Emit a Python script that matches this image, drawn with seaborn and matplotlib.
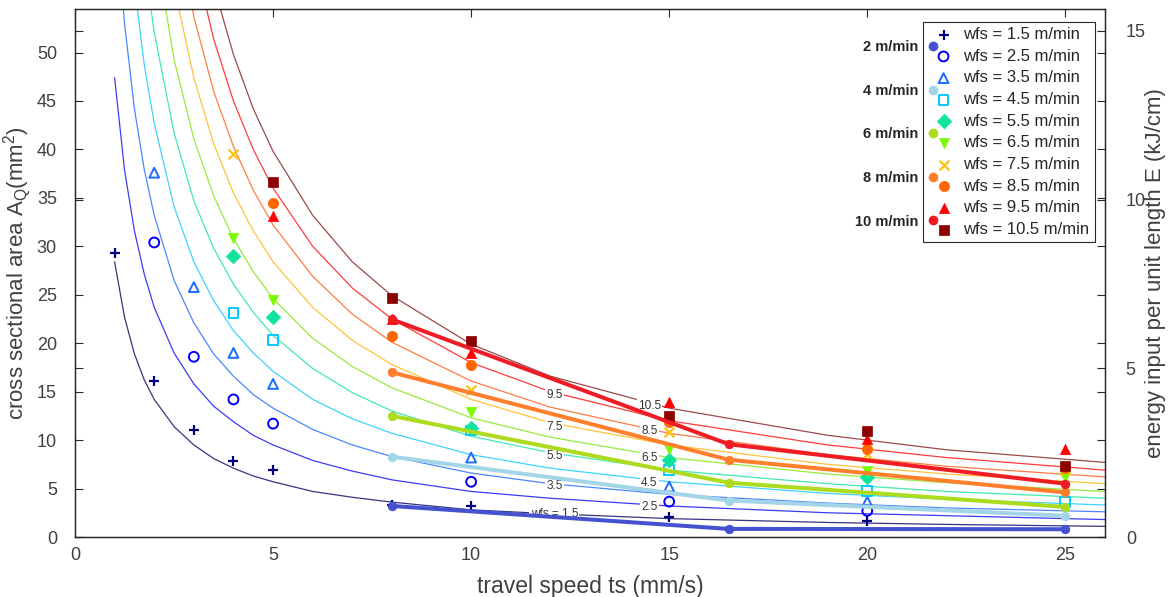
import matplotlib
matplotlib.use("Agg")
import matplotlib.pyplot as plt
from matplotlib.lines import Line2D
import seaborn as sns

# constant-wfs curves at these travel speeds (mm/s)
CURVE_TS = [1, 1.25, 1.5, 1.75, 2, 2.5, 3, 3.5, 4, 4.5, 5, 6, 7, 8, 10, 12, 15, 19, 22, 26]
CURVE_1_5 = [28.4, 22.7, 18.9, 16.2, 14.2, 11.4, 9.5, 8.1, 7.1, 6.3, 5.7, 4.7, 4.1, 3.6, 2.8, 2.4, 1.9, 1.5, 1.3, 1.1]
CURVE_2_5 = [47.4, 37.9, 31.6, 27.1, 23.7, 19.0, 15.8, 13.5, 11.9, 10.5, 9.5, 7.9, 6.8, 5.9, 4.7, 4.0, 3.2, 2.5, 2.2, 1.8]
CURVE_3_5 = [66.3, 53.0, 44.2, 37.9, 33.2, 26.5, 22.1, 18.9, 16.6, 14.7, 13.3, 11.1, 9.5, 8.3, 6.6, 5.5, 4.4, 3.5, 3.0, 2.6]
CURVE_4_5 = [85.3, 68.2, 56.9, 48.7, 42.7, 34.1, 28.4, 24.4, 21.3, 19.0, 17.1, 14.2, 12.2, 10.7, 8.5, 7.1, 5.7, 4.5, 3.9, 3.3]
CURVE_5_5 = [104.2, 83.4, 69.5, 59.5, 52.1, 41.7, 34.7, 29.8, 26.1, 23.2, 20.8, 17.4, 14.9, 13.0, 10.4, 8.7, 6.9, 5.5, 4.7, 4.0]
CURVE_6_5 = [123.2, 98.6, 82.1, 70.4, 61.6, 49.3, 41.1, 35.2, 30.8, 27.4, 24.6, 20.5, 17.6, 15.4, 12.3, 10.3, 8.2, 6.5, 5.6, 4.7]
CURVE_7_5 = [142.1, 113.7, 94.7, 81.2, 71.1, 56.8, 47.4, 40.6, 35.5, 31.6, 28.4, 23.7, 20.3, 17.8, 14.2, 11.8, 9.5, 7.5, 6.5, 5.5]
CURVE_8_5 = [161.1, 128.9, 107.4, 92.1, 80.6, 64.4, 53.7, 46.0, 40.3, 35.8, 32.2, 26.9, 23.0, 20.1, 16.1, 13.4, 10.7, 8.5, 7.3, 6.2]
CURVE_9_5 = [180.0, 144.0, 120.0, 102.9, 90.0, 72.0, 60.0, 51.4, 45.0, 40.0, 36.0, 30.0, 25.7, 22.5, 18.0, 15.0, 12.0, 9.5, 8.2, 6.9]
CURVE_10_5 = [199.0, 159.2, 132.7, 113.7, 99.5, 79.6, 66.3, 56.9, 49.8, 44.2, 39.8, 33.2, 28.4, 24.9, 19.9, 16.6, 13.3, 10.5, 9.0, 7.7]

CURVE_LABELS = ["wfs = 1.5", "2.5", "3.5", "4.5", "5.5", "6.5", "7.5", "8.5", "9.5", "10.5"]
LABEL_TS = [12.1, 14.5, 12.1, 14.5, 12.1, 14.5, 12.1, 14.5, 12.1, 14.5]
LABEL_A = [2.4, 3.1, 5.3, 5.6, 8.4, 8.2, 11.4, 10.9, 14.7, 13.5]

# measured cross sections per wire feed speed
TS_1_5 = [1, 2, 3, 4, 5, 8, 10, 15, 20]
A_1_5 = [29.3, 16.1, 11.05, 7.85, 6.9, 3.3, 3.2, 2.1, 1.6]
TS_2_5 = [2, 3, 4, 5, 10, 15, 20]
A_2_5 = [30.4, 18.6, 14.2, 11.7, 5.7, 3.65, 2.7]
TS_3_5 = [2, 3, 4, 5, 10, 15, 20]
A_3_5 = [37.6, 25.8, 19.0, 15.8, 8.2, 5.2, 3.65]
TS_4_5 = [4, 5, 10, 15, 20, 25]
A_4_5 = [23.1, 20.3, 11.0, 6.9, 4.75, 3.65]
TS_5_5 = [4, 5, 10, 15, 20]
A_5_5 = [29.0, 22.7, 11.3, 7.9, 6.2]
TS_6_5 = [4, 5, 10, 15, 20, 25]
A_6_5 = [30.9, 24.5, 12.9, 9.1, 6.8, 6.2]
TS_7_5 = [4, 10, 15, 20, 25]
A_7_5 = [39.5, 15.2, 10.8, 8.6, 6.9]
TS_8_5 = [5, 8, 10, 15, 20, 25]
A_8_5 = [34.5, 20.7, 17.8, 11.9, 9.1, 7.1]
TS_9_5 = [5, 8, 10, 15, 20, 25]
A_9_5 = [33.1, 22.5, 19.0, 13.9, 10.1, 9.06]
TS_10_5 = [5, 8, 10, 15, 20, 25]
A_10_5 = [36.6, 24.7, 20.2, 12.5, 10.9, 7.3]

WFS_LABELS = ["wfs = 1.5 m/min", "wfs = 2.5 m/min", "wfs = 3.5 m/min", "wfs = 4.5 m/min",
              "wfs = 5.5 m/min", "wfs = 6.5 m/min", "wfs = 7.5 m/min", "wfs = 8.5 m/min",
              "wfs = 9.5 m/min", "wfs = 10.5 m/min"]

# energy input per unit length (kJ/cm), right axis
E_TS = [8, 16.5, 25]
E_2 = [0.92, 0.24, 0.23]
E_4 = [2.38, 1.08, 0.63]
E_6 = [3.59, 1.61, 0.89]
E_8 = [4.88, 2.29, 1.32]
E_10 = [6.45, 2.75, 1.58]
E_LABELS = ["2 m/min", "4 m/min", "6 m/min", "8 m/min", "10 m/min"]

CURVE_COLORS = ["#35357f", "#3c3cf5", "#4a86ff", "#40d2ff", "#40eab0",
                "#98ea3c", "#ffc23c", "#ff7c44", "#ff3c3c", "#9c4a4a"]
MARKER_COLORS = ["#000080", "#0000ff", "#1a6cff", "#00c8ff", "#10e39b",
                 "#7cfc00", "#ffc20e", "#ff6600", "#ff0000", "#8b0000"]
MARKERS = ["+", "o", "^", "s", "D", "v", "x", "o", "^", "s"]
FILLED = [True, False, False, False, True, True, True, True, True, True]
E_COLORS = ["#4452cf", "#a3d5e8", "#addb1e", "#ff802c", "#ee1c24"]

TXT = "#404040"

sns.set_style("white")
plt.rcParams["font.family"] = ["Liberation Sans", "DejaVu Sans"]
plt.rcParams["mathtext.fontset"] = "custom"
plt.rcParams["mathtext.rm"] = "Liberation Sans"

fig, ax = plt.subplots(figsize=(11.7, 5.97), dpi=100)
fig.subplots_adjust(left=0.0641, right=0.9444, bottom=0.1005, top=0.985)
ax2 = ax.twinx()

curves = [CURVE_1_5, CURVE_2_5, CURVE_3_5, CURVE_4_5, CURVE_5_5,
          CURVE_6_5, CURVE_7_5, CURVE_8_5, CURVE_9_5, CURVE_10_5]
for vals, col in zip(curves, CURVE_COLORS):
    sns.lineplot(x=CURVE_TS, y=vals, ax=ax, color=col, lw=0.9, sort=False,
                 estimator=None, zorder=1)

for t, xx, yy in zip(CURVE_LABELS, LABEL_TS, LABEL_A):
    ax.text(xx, yy, t, fontsize=8.5, color="#333333", ha="center", va="center", zorder=2,
            bbox=dict(boxstyle="square,pad=0.1", fc="white", ec="none"))

ts_sets = [TS_1_5, TS_2_5, TS_3_5, TS_4_5, TS_5_5, TS_6_5, TS_7_5, TS_8_5, TS_9_5, TS_10_5]
a_sets = [A_1_5, A_2_5, A_3_5, A_4_5, A_5_5, A_6_5, A_7_5, A_8_5, A_9_5, A_10_5]
for ts, a, m, col, filled, lab in zip(ts_sets, a_sets, MARKERS, MARKER_COLORS, FILLED, WFS_LABELS):
    if m in ("+", "x"):
        sns.scatterplot(x=ts, y=a, ax=ax, marker=m, s=50, color=col, linewidth=1.6,
                        label=lab, zorder=4)
    elif filled:
        sns.scatterplot(x=ts, y=a, ax=ax, marker=m, s=55, color=col, edgecolor=col,
                        linewidth=0.5, label=lab, zorder=4)
    else:
        sns.scatterplot(x=ts, y=a, ax=ax, marker=m, s=50, color=col, facecolor="none",
                        edgecolor=col, linewidth=1.4, label=lab, zorder=4)
if ax.get_legend() is not None:
    ax.get_legend().remove()

for e, col in zip([E_2, E_4, E_6, E_8, E_10], E_COLORS):
    sns.lineplot(x=E_TS, y=e, ax=ax2, color=col, lw=2.9, marker="o", markersize=6,
                 markeredgecolor=col, sort=False, estimator=None, zorder=3)

ax.set_xlim(0, 26)
ax.set_ylim(0, 54.5)
ax2.set_ylim(0, 15.65)
ax.set_xticks(range(0, 26, 5))
ax.set_yticks(range(0, 51, 5))
ax2.set_yticks([0, 5, 10, 15])

ax.tick_params(direction="in", top=True, right=True, length=6, width=0.8,
               labelsize=13, labelcolor=TXT)
ax.tick_params(axis="x", pad=7)
ax.tick_params(axis="y", pad=13)
ax2.tick_params(direction="in", left=True, length=6, width=0.8,
                labelsize=13, labelcolor=TXT, pad=15)
for a_ in (ax, ax2):
    for sp in a_.spines.values():
        sp.set_color("#262626")
        sp.set_linewidth(0.9)

ax.set_xlabel("travel speed ts (mm/s)", fontsize=16.5, color=TXT)
ax.set_ylabel(r"cross sectional area A$_\mathrm{Q}$(mm$^\mathrm{2}$)", fontsize=16, color=TXT)
ax2.set_ylabel("energy input per unit length E (kJ/cm)", fontsize=16, color=TXT)
ax.xaxis.set_label_coords(0.5, -0.072)
ax.yaxis.set_label_coords(-0.041, 0.5)
ax2.yaxis.set_label_coords(1.039, 0.5)

h, l = ax.get_legend_handles_labels()
leg1 = ax2.legend(h, l, loc="upper right", bbox_to_anchor=(0.990, 0.975), borderaxespad=0,
                  frameon=True, fancybox=False, edgecolor="#262626", framealpha=1,
                  prop={"size": 12}, labelspacing=0.40, borderpad=0.3, handlelength=1.9,
                  handletextpad=0.25, scatterpoints=1)
leg1.get_frame().set_linewidth(0.8)
ax2.add_artist(leg1)

e_handles = [Line2D([], [], ls="", marker="o", ms=6, color=c) for c in E_COLORS]
ax2.legend(e_handles, E_LABELS, loc="upper right", bbox_to_anchor=(0.839, 0.941),
           borderaxespad=0, borderpad=0, frameon=False, markerfirst=False,
           prop={"size": 10.5, "weight": "bold"}, labelspacing=2.03, handlelength=0.8,
           handletextpad=0.6)

plt.savefig("out.png", dpi=100)
